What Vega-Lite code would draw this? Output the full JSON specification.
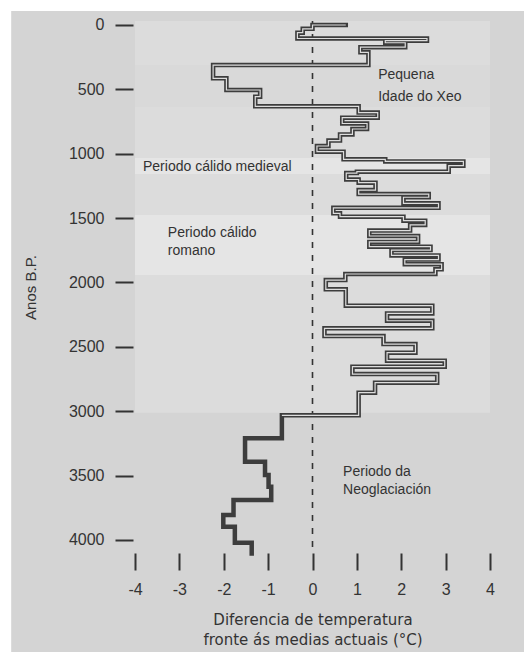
{
  "$schema": "https://vega.github.io/schema/vega-lite/v6.json",
  "width": 355,
  "height": 532,
  "autosize": {"type": "none"},
  "padding": {"left": 135, "top": 21, "right": 34, "bottom": 99},
  "background": "white",
  "config": {
    "view": {"stroke": null},
    "axis": {"grid": false, "domain": false, "tickColor": "#333333", "tickWidth": 2, "labelColor": "#333333", "labelFont": "Liberation Sans", "labelFontSize": 16, "titleColor": "#333333", "titleFontWeight": "normal", "labelFlush": false, "labelOverlap": false}
  },
  "layer": [
    {
      "data": {"values": [{"fx": -6.79, "fx2": 6, "fy": -109, "fy2": 5300}]},
      "mark": {"type": "rect", "color": "#d4d4d4"},
      "encoding": {
        "x": {"field": "fx", "type": "quantitative"},
        "x2": {"field": "fx2"},
        "y": {"field": "fy", "type": "quantitative"},
        "y2": {"field": "fy2"}
      }
    },
    {
      "data": {"values": [
        {"start": -31, "end": 311, "band": "light"},
        {"start": 311, "end": 637, "band": "mid"},
        {"start": 637, "end": 1033, "band": "light"},
        {"start": 1033, "end": 1157, "band": "pale"},
        {"start": 1157, "end": 1476, "band": "light"},
        {"start": 1476, "end": 1942, "band": "pale"},
        {"start": 1942, "end": 3012, "band": "light"}
      ]},
      "mark": {"type": "rect"},
      "encoding": {
        "y": {"field": "start", "type": "quantitative"},
        "y2": {"field": "end"},
        "color": {"field": "band", "type": "nominal", "legend": null, "scale": {"domain": ["light", "mid", "pale"], "range": ["#dcdcdc", "#d9d9d9", "#e5e5e5"]}}
      }
    },
    {
      "data": {"values": [{"zero": 0}]},
      "mark": {"type": "rule", "color": "#333333", "strokeWidth": 1.6, "strokeDash": [6, 7]},
      "encoding": {"x": {"field": "zero", "type": "quantitative"}}
    },
    {
      "data": {"name": "series", "values": [
        {"seq": 1, "year": 0, "temp": 0.75},
        {"seq": 2, "year": 0, "temp": 0.0},
        {"seq": 3, "year": 30, "temp": -0.22},
        {"seq": 4, "year": 60, "temp": -0.34},
        {"seq": 5, "year": 105, "temp": 2.58},
        {"seq": 6, "year": 122, "temp": 1.64},
        {"seq": 7, "year": 138, "temp": 2.09},
        {"seq": 8, "year": 172, "temp": 1.08},
        {"seq": 9, "year": 212, "temp": 1.26},
        {"seq": 10, "year": 311, "temp": -2.24},
        {"seq": 11, "year": 414, "temp": -1.94},
        {"seq": 12, "year": 505, "temp": -1.18},
        {"seq": 13, "year": 557, "temp": -1.29},
        {"seq": 14, "year": 632, "temp": 1.04},
        {"seq": 15, "year": 680, "temp": 1.47},
        {"seq": 16, "year": 720, "temp": 0.67},
        {"seq": 17, "year": 765, "temp": 1.23},
        {"seq": 18, "year": 808, "temp": 0.9},
        {"seq": 19, "year": 850, "temp": 0.62},
        {"seq": 20, "year": 898, "temp": 0.36},
        {"seq": 21, "year": 940, "temp": 0.1},
        {"seq": 22, "year": 984, "temp": 0.7},
        {"seq": 23, "year": 1043, "temp": 1.64},
        {"seq": 24, "year": 1060, "temp": 3.4},
        {"seq": 25, "year": 1093, "temp": 3.07},
        {"seq": 26, "year": 1139, "temp": 1.0},
        {"seq": 27, "year": 1150, "temp": 0.76},
        {"seq": 28, "year": 1200, "temp": 1.04},
        {"seq": 29, "year": 1225, "temp": 1.42},
        {"seq": 30, "year": 1282, "temp": 1.04},
        {"seq": 31, "year": 1313, "temp": 2.62},
        {"seq": 32, "year": 1338, "temp": 2.05},
        {"seq": 33, "year": 1385, "temp": 2.84},
        {"seq": 34, "year": 1420, "temp": 0.47},
        {"seq": 35, "year": 1463, "temp": 0.62},
        {"seq": 36, "year": 1489, "temp": 2.05},
        {"seq": 37, "year": 1520, "temp": 2.54},
        {"seq": 38, "year": 1553, "temp": 2.2},
        {"seq": 39, "year": 1597, "temp": 1.28},
        {"seq": 40, "year": 1639, "temp": 2.38},
        {"seq": 41, "year": 1685, "temp": 1.28},
        {"seq": 42, "year": 1722, "temp": 2.66},
        {"seq": 43, "year": 1748, "temp": 1.78},
        {"seq": 44, "year": 1790, "temp": 2.84},
        {"seq": 45, "year": 1822, "temp": 2.08},
        {"seq": 46, "year": 1858, "temp": 2.91},
        {"seq": 47, "year": 1898, "temp": 2.77},
        {"seq": 48, "year": 1934, "temp": 0.74},
        {"seq": 49, "year": 1981, "temp": 0.3},
        {"seq": 50, "year": 2053, "temp": 0.75},
        {"seq": 51, "year": 2180, "temp": 2.7},
        {"seq": 52, "year": 2240, "temp": 1.68},
        {"seq": 53, "year": 2297, "temp": 2.7},
        {"seq": 54, "year": 2356, "temp": 0.27},
        {"seq": 55, "year": 2416, "temp": 1.6},
        {"seq": 56, "year": 2478, "temp": 2.32},
        {"seq": 57, "year": 2545, "temp": 1.68},
        {"seq": 58, "year": 2607, "temp": 2.98},
        {"seq": 59, "year": 2654, "temp": 0.9},
        {"seq": 60, "year": 2711, "temp": 2.81},
        {"seq": 61, "year": 2778, "temp": 1.41},
        {"seq": 62, "year": 2856, "temp": 1.04},
        {"seq": 63, "year": 3032, "temp": -0.69},
        {"seq": 64, "year": 3210, "temp": -1.52},
        {"seq": 65, "year": 3392, "temp": -1.07},
        {"seq": 66, "year": 3495, "temp": -0.99},
        {"seq": 67, "year": 3586, "temp": -0.93},
        {"seq": 68, "year": 3689, "temp": -1.78},
        {"seq": 69, "year": 3806, "temp": -2.01},
        {"seq": 70, "year": 3897, "temp": -1.75},
        {"seq": 71, "year": 4021, "temp": -1.37},
        {"seq": 72, "year": 4104, "temp": -1.37}
      ]},
      "layer": [
        {
          "mark": {"type": "line", "interpolate": "step-before", "color": "#3d3d3d", "strokeWidth": 4.5, "strokeJoin": "miter", "strokeCap": "square"},
          "encoding": {
            "x": {"field": "temp", "type": "quantitative", "scale": {"domain": [-4, 4], "nice": false, "zero": false},
              "axis": {"zindex": 2, "values": [-4, -3, -2, -1, 0, 1, 2, 3, 4], "labelExpr": "'' + datum.value", "tickSize": 17, "labelPadding": 11, "title": ["Diferencia de temperatura", "fronte ás medias actuais (°C)"], "titleFont": "DejaVu Sans", "titleFontSize": 15, "titleLineHeight": 20, "titlePadding": 15}},
            "y": {"field": "year", "type": "quantitative", "scale": {"domain": [-31, 4101], "reverse": true, "nice": false, "zero": false},
              "axis": {"zindex": 2, "values": [0, 500, 1000, 1500, 2000, 2500, 3000, 3500, 4000], "labelExpr": "'' + datum.value", "tickSize": 18, "offset": 2, "labelPadding": 11, "title": "Anos B.P.", "titleFont": "Liberation Sans", "titleFontSize": 15, "titlePadding": 30}},
            "order": {"field": "seq", "type": "quantitative"}
          }
        },
        {
          "transform": [{"filter": "datum.year <= 3032"}],
          "mark": {"type": "line", "interpolate": "step-before", "color": "#dddddd", "strokeWidth": 1.2, "strokeJoin": "miter"},
          "encoding": {
            "x": {"field": "temp", "type": "quantitative"},
            "y": {"field": "year", "type": "quantitative"},
            "order": {"field": "seq", "type": "quantitative"}
          }
        }
      ]
    },
    {
      "data": {"values": [{"label": "Pequena\nIdade do Xeo", "tx": 1.48, "ty": 388}]},
      "mark": {"type": "text", "align": "left", "baseline": "middle", "lineBreak": "\n", "lineHeight": 22, "font": "Liberation Sans", "fontSize": 14, "color": "#333333"},
      "encoding": {
        "x": {"field": "tx", "type": "quantitative"},
        "y": {"field": "ty", "type": "quantitative"},
        "text": {"field": "label"}
      }
    },
    {
      "data": {"values": [
        {"label": "Periodo cálido medieval", "tx": -3.82, "ty": 1103},
        {"label": "Periodo cálido\nromano", "tx": -3.26, "ty": 1616},
        {"label": "Periodo da\nNeoglaciación", "tx": 0.69, "ty": 3472}
      ]},
      "mark": {"type": "text", "align": "left", "baseline": "middle", "lineBreak": "\n", "lineHeight": 18, "font": "Liberation Sans", "fontSize": 14, "color": "#333333"},
      "encoding": {
        "x": {"field": "tx", "type": "quantitative"},
        "y": {"field": "ty", "type": "quantitative"},
        "text": {"field": "label"}
      }
    }
  ]
}
